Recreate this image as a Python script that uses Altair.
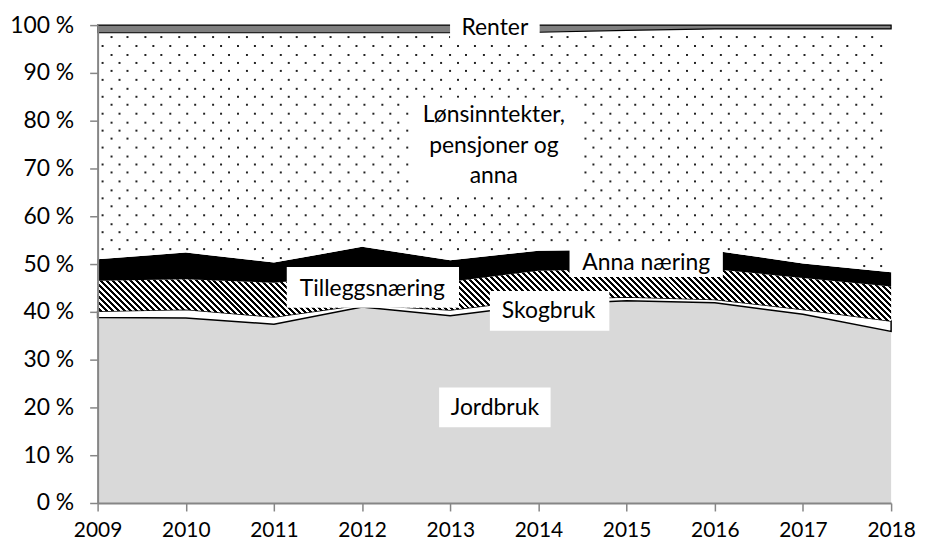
import altair as alt
import numpy as np
import pandas as pd

# ---------------- data (shares in %) ----------------
years = [2009, 2010, 2011, 2012, 2013, 2014, 2015, 2016, 2017, 2018]
jordbruk = [38.8, 38.7, 37.4, 41.0, 39.2, 41.5, 42.3, 41.9, 39.5, 35.9]
skogbruk = [1.3, 1.8, 1.5, 0.5, 1.2, 1.1, 0.8, 0.7, 1.0, 2.2]
tilleggsnaering = [6.4, 6.3, 7.2, 6.3, 5.9, 6.0, 5.9, 6.3, 6.6, 7.2]
anna_naering = [4.5, 5.6, 4.2, 5.8, 4.5, 4.2, 4.0, 3.9, 3.0, 3.0]
lonn = [47.4, 46.0, 48.1, 44.8, 47.6, 45.7, 45.9, 46.4, 49.1, 50.9]
renter = [1.6, 1.6, 1.6, 1.6, 1.6, 1.5, 1.1, 0.8, 0.8, 0.8]
series_names = ["Jordbruk", "Skogbruk", "Tilleggsnæring", "Anna næring",
                "Lønsinntekter, pensjoner og anna", "Renter"]
y_tick_values = [0, 10, 20, 30, 40, 50, 60, 70, 80, 90, 100]

all_series = [jordbruk, skogbruk, tilleggsnaering, anna_naering, lonn, renter]

rows = []
for order, (name, vals) in enumerate(zip(series_names, all_series)):
    for yr, v in zip(years, vals):
        rows.append({"year": yr, "series": name, "order": order, "value": v})
df = pd.DataFrame(rows)

# ---------------- geometry helpers ----------------
W, H = 797, 480
VIEW_X0, VIEW_Y0 = 98, 24  # page position of the plot area
PX_PER_YEAR = W / (years[-1] - years[0])
PX_PER_PCT = H / 100.0


def year_at(px_page):
    return years[0] + (px_page - VIEW_X0) / PX_PER_YEAR


def pct_at(py_page):
    return 100 - (py_page - VIEW_Y0) / PX_PER_PCT


FONT = "Lato"
AXIS_GRAY = "#868686"

x_scale = alt.Scale(domain=[years[0], years[-1]], nice=False, zero=False)
y_scale = alt.Scale(domain=[0, 100], nice=False)
x_axis = alt.Axis(values=years, format="d", title=None, grid=False,
                  tickSize=8, tickColor=AXIS_GRAY, tickWidth=1.5,
                  domainColor=AXIS_GRAY, domainWidth=2, labelPadding=9,
                  labelFont=FONT, labelFontSize=21, labelColor="black",
                  labelOverlap=False, labelFlush=False, zindex=1)
y_axis = alt.Axis(values=y_tick_values, labelExpr="datum.value + ' %'",
                  title=None, grid=False, tickSize=8, tickColor=AXIS_GRAY,
                  tickWidth=1.5, domainColor=AXIS_GRAY, domainWidth=2,
                  labelPadding=16, labelFont=FONT, labelFontSize=23,
                  labelColor="black", labelOverlap=False, zindex=1)

base = alt.Chart(df).transform_stack(
    stack="value", as_=["y0", "y1"], groupby=["year"],
    sort=[alt.SortField(field="order", order="ascending")])


def area(name, **kw):
    return base.transform_filter(alt.datum.series == name).mark_area(**kw).encode(
        x=alt.X("year:Q", scale=x_scale, axis=x_axis),
        y=alt.Y("y0:Q", scale=y_scale, axis=y_axis),
        y2="y1:Q",
    )


# ---------------- hatch (diagonal stripes) as a sharp linear gradient ----------------
cum = np.cumsum(np.array(all_series, dtype=float), axis=0)
hatch_top_px = (100 - cum[2]) * PX_PER_PCT
hatch_bot_px = (100 - cum[1]) * PX_PER_PCT
BW = float(W)
BH = float(hatch_bot_px.max() - hatch_top_px.min())
lam = (BW + BH) / (BW ** 2 + BH ** 2)
PERIOD = 6.0
stops = []
k = 0
span = BW + BH
while k * PERIOD < span:
    o0 = min(1.0, k * PERIOD / span)
    om = min(1.0, (k * PERIOD + PERIOD * 0.5) / span)
    o1 = min(1.0, (k + 1) * PERIOD / span)
    stops += [{"offset": o0, "color": "black"}, {"offset": om, "color": "black"},
              {"offset": om, "color": "white"}, {"offset": o1, "color": "white"}]
    k += 1
hatch_fill = {"gradient": "linear", "x1": 0, "y1": 1, "x2": lam * BW,
              "y2": 1 - lam * BH, "stops": stops}

layers = [
    area("Jordbruk", fill="#d9d9d9", stroke="black", strokeWidth=0),
    area("Skogbruk", fill="white", stroke="black", strokeWidth=1.5),
    area("Tilleggsnæring", fill=hatch_fill, strokeWidth=0),
    area("Anna næring", fill="black", strokeWidth=0),
    area("Lønsinntekter, pensjoner og anna", fill="white", strokeWidth=0),
]

# ---------------- dotted texture for the wage area ----------------
lower = cum[3]
upper = cum[4]
dots = []
DX, DY = 17.0, 8.5
r = 0
while r * DY < H:
    py = VIEW_Y0 + round(r * DY) + 4
    off = 0 if r % 2 == 0 else DX / 2
    px = VIEW_X0 + 5 + off
    while px < VIEW_X0 + W - 2:
        yr = year_at(round(px))
        pc = pct_at(py)
        lo = np.interp(yr, years, lower)
        hi = np.interp(yr, years, upper)
        if lo + 0.5 < pc < hi - 0.3:
            dots.append({"dx": yr, "dy": pc})
        px += DX
    r += 1
dots_df = pd.DataFrame(dots)
dot_layer = alt.Chart(dots_df).mark_square(size=4, color="#222222", opacity=1).encode(
    x=alt.X("dx:Q", scale=x_scale, axis=x_axis),
    y=alt.Y("dy:Q", scale=y_scale, axis=y_axis),
)
layers.append(dot_layer)
layers.append(area("Renter", fill="#7f7f7f", stroke="black", strokeWidth=1.2))

# ---------------- labels with white boxes ----------------
# (text, first-line center x, first-line center y, box left, box right, box top, box bottom) in page px
label_specs = [
    ("Renter", 497, 27, 452, 542, 13, 39),
    ("Anna næring", 649, 263, 572, 726, 249, 277),
    ("Tilleggsnæring", 374, 289, 288, 461, 267, 308),
    ("Skogbruk", 551, 311, 492, 612, 291, 331),
    ("Jordbruk", 497, 409, 441, 553, 388, 428),
    ("Lønsinntekter,\npensjoner og\nanna", 496, 114, 413, 581, 97, 193),
]
lab_df = pd.DataFrame([
    {"text": t, "tx": year_at(cx), "ty": pct_at(cy),
     "bx1": year_at(l), "bx2": year_at(rr), "by1": pct_at(b), "by2": pct_at(tp)}
    for (t, cx, cy, l, rr, tp, b) in label_specs
])

boxes = alt.Chart(lab_df).mark_rect(fill="white", strokeWidth=0).encode(
    x=alt.X("bx1:Q", scale=x_scale, axis=x_axis), x2="bx2:Q",
    y=alt.Y("by1:Q", scale=y_scale, axis=y_axis), y2="by2:Q",
)
texts = alt.Chart(lab_df).mark_text(
    font=FONT, fontSize=23, color="black", align="center", baseline="middle",
    lineBreak="\n", lineHeight=31,
).encode(
    x=alt.X("tx:Q", scale=x_scale, axis=x_axis),
    y=alt.Y("ty:Q", scale=y_scale, axis=y_axis),
    text="text:N",
)
layers += [boxes, texts]

chart = alt.layer(*layers).properties(
    width=W, height=H,
    padding={"left": VIEW_X0 - 8, "top": VIEW_Y0 - 8, "right": 26, "bottom": 40},
    autosize=alt.AutoSizeParams(type="none"),
).configure_view(strokeWidth=0)

chart.save("out.html", embed_options={"renderer": "svg", "actions": False})
